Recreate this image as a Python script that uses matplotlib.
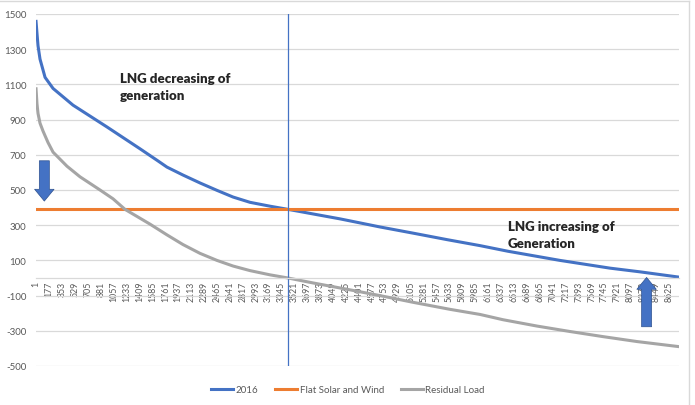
import matplotlib
matplotlib.use("Agg")
import matplotlib.pyplot as plt
from matplotlib.lines import Line2D

# -----------------------------
# data
# -----------------------------
load_hours = [1, 14, 28, 55, 124, 233, 505, 968, 1418, 1663, 1785, 2003, 2235, 2466,
              2685, 2916, 3188, 3434, 3774, 4142, 4415, 4687, 5136, 5600, 6049,
              6430, 6825, 7139, 7820, 8229, 8760]
load_2016 = [1458, 1390, 1320, 1244, 1140, 1077, 982, 858, 734, 665, 630, 585, 540, 498,
             460, 430, 408, 390, 364, 336, 313, 290, 255, 218, 184,
             152, 123, 100, 56, 35, 5]

flat_hours = [1, 8760]
flat_solar_wind = [390, 390]

resid_hours = [1, 14, 28, 55, 96, 164, 233, 423, 600, 873, 1050, 1213, 1554, 1785,
               2003, 2235, 2466, 2685, 2916, 3188, 3434, 3774, 4237, 4687, 5136, 5640,
               6049, 6362, 6825, 7275, 7724, 8187, 8760]
residual_load = [1075, 990, 935, 880, 835, 770, 715, 635, 575, 500, 450, 390, 306, 245,
                 190, 140, 100, 68, 42, 18, 0, -28, -64, -100, -138, -178,
                 -207, -237, -273, -304, -333, -361, -390]

cross_hour = 3434
x_tick_hours = list(range(1, 8761, 176))
y_ticks = list(range(-500, 1501, 200))

BLUE = "#4472C4"
ORANGE = "#ED7D31"
GREY = "#A5A5A5"
TXT = "#595959"
GRID = "#D9D9D9"

plt.rcParams["font.family"] = ["Lato", "DejaVu Sans"]

fig = plt.figure(figsize=(6.95, 4.06), dpi=100)
ax = fig.add_axes([36 / 695, 1 - 367 / 406, 643 / 695, 352 / 406])

# axis line through zero (set first, it resets the ticks)
for s in ["top", "right", "left"]:
    ax.spines[s].set_visible(False)
ax.spines["bottom"].set_position(("data", 0))
ax.spines["bottom"].set_color(GRID)
ax.spines["bottom"].set_linewidth(0.9)

ax.plot(load_hours, load_2016, color=BLUE, lw=2.2, label="2016")
ax.plot(flat_hours, flat_solar_wind, color=ORANGE, lw=2.2, label="Flat Solar and Wind")
ax.plot(resid_hours, residual_load, color=GREY, lw=2.2, label="Residual Load")
ax.axvline(cross_hour, color=BLUE, lw=0.9)

ax.set_xlim(0.5, 8760.5)
ax.set_ylim(-500, 1500)
ax.set_yticks(y_ticks)
ax.set_yticklabels([str(v) for v in y_ticks])
ax.set_xticks(x_tick_hours)
ax.set_xticklabels([str(h) for h in x_tick_hours])
ax.tick_params(axis="both", length=0, labelcolor=TXT)
ax.tick_params(axis="y", pad=7, labelsize=7)
ax.tick_params(axis="x", pad=2, labelsize=6.3, labelrotation=90)

ax.grid(axis="y", color=GRID, lw=0.9)
ax.set_axisbelow(True)

# annotations
ax.text(1145, 1172, "LNG decreasing of\ngeneration", fontsize=9.5, fontweight="heavy",
        color="#262626", va="top", ha="left", linespacing=1.5)
ax.text(6430, 328, "LNG increasing of\nGeneration", fontsize=9.5, fontweight="heavy",
        color="#262626", va="top", ha="left", linespacing=1.5)

arrow_style = "simple,head_width=1.4,head_length=0.85,tail_width=0.72"
ax.annotate("", xy=(114, 437), xytext=(114, 666),
            arrowprops=dict(arrowstyle=arrow_style, mutation_scale=10, fc=BLUE,
                            ec="#2F528F", lw=0.5, shrinkA=0, shrinkB=0))
ax.annotate("", xy=(8319, 3), xytext=(8319, -277),
            arrowprops=dict(arrowstyle=arrow_style, mutation_scale=10, fc=BLUE,
                            ec="#2F528F", lw=0.5, shrinkA=0, shrinkB=0))

fig.legend(loc="center", bbox_to_anchor=(348 / 695, 1 - 391 / 406), ncol=3,
           frameon=False, fontsize=7, labelcolor=TXT, handlelength=2.3,
           handletextpad=0.25, columnspacing=1.7)

# chart frame (top and right edges visible)
fig.add_artist(Line2D([0, 689 / 695], [1 - 2 / 406, 1 - 2 / 406], color=GRID, lw=1,
                      transform=fig.transFigure))
fig.add_artist(Line2D([689 / 695, 689 / 695], [0, 1 - 2 / 406], color=GRID, lw=1,
                      transform=fig.transFigure))

fig.savefig("out.png", dpi=100)
